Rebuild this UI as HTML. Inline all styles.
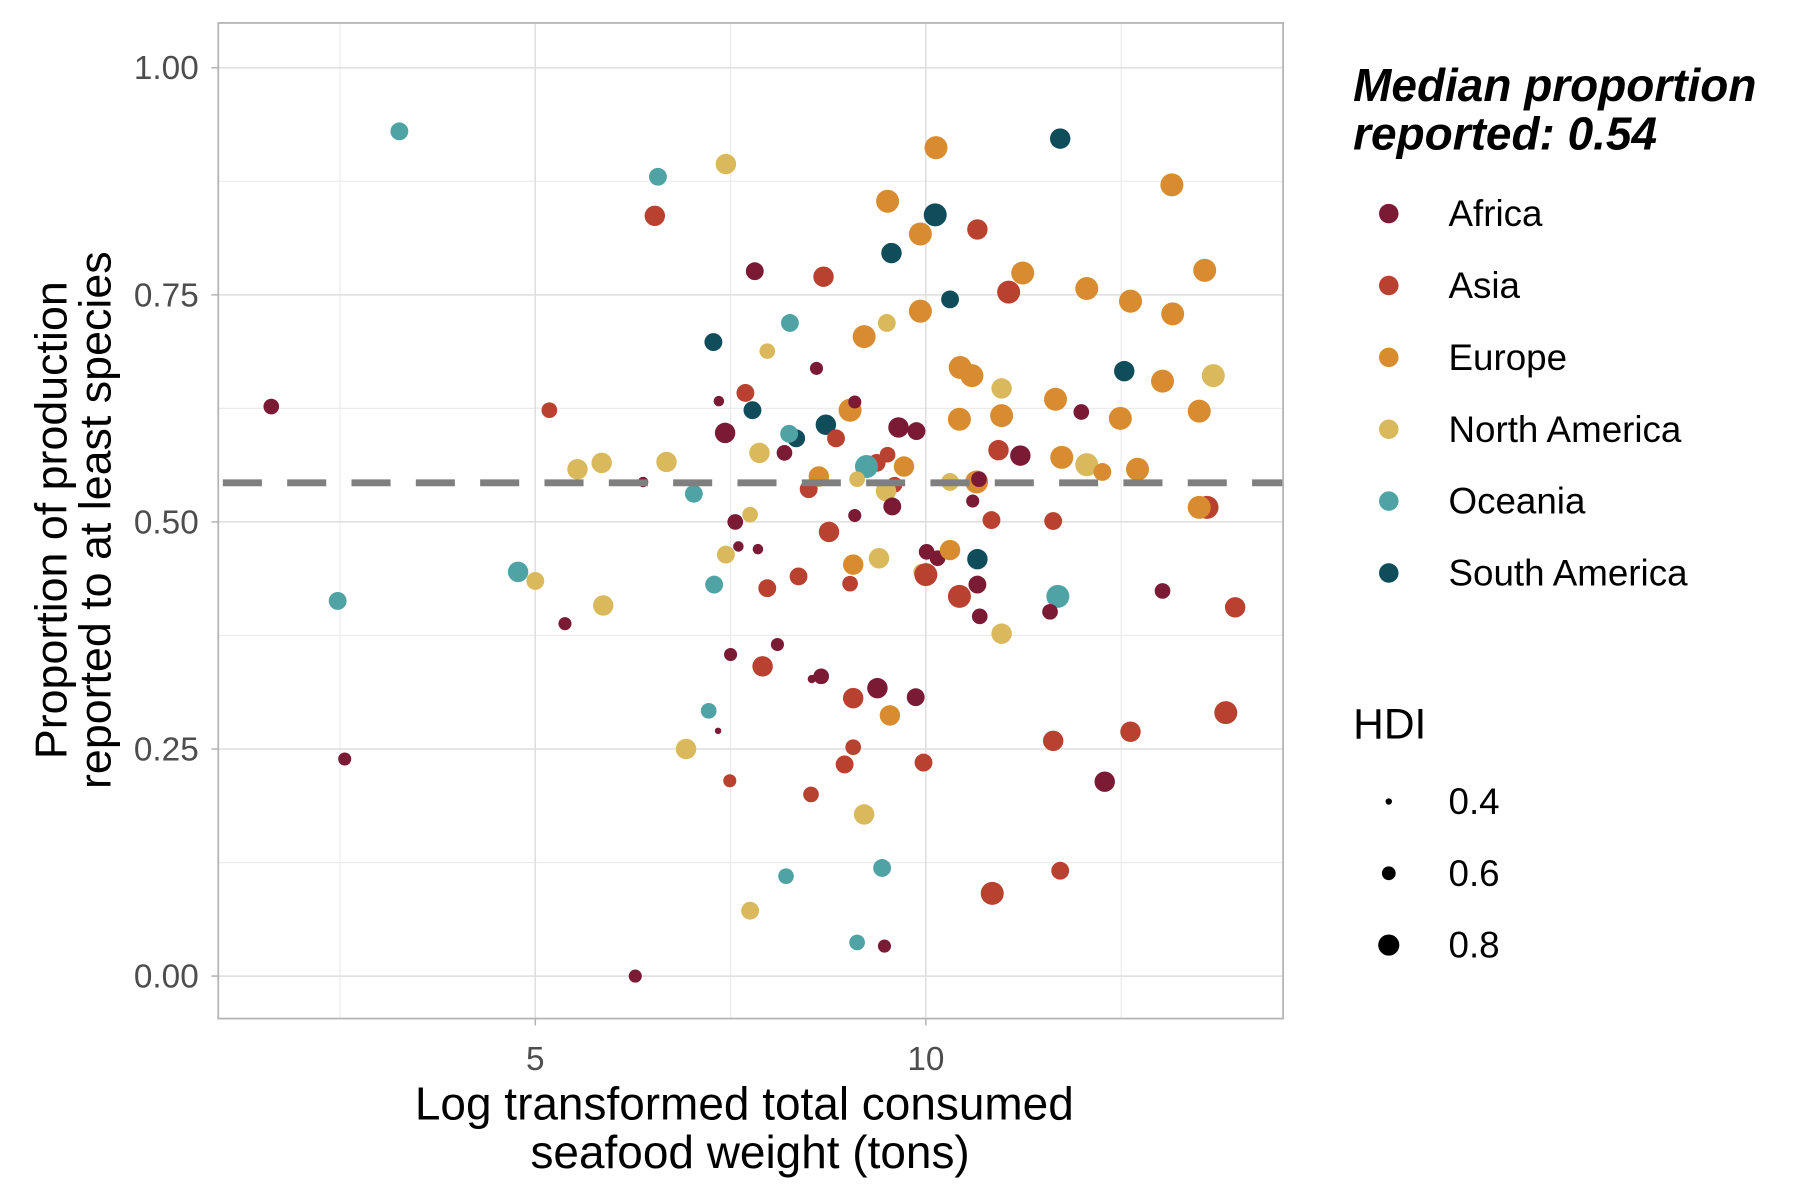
<!DOCTYPE html>
<html><head><meta charset="utf-8"><style>
html,body{margin:0;padding:0;background:#fff;}
svg{display:block;}
text{font-family:"Liberation Sans",Arial,sans-serif;}
</style></head><body>
<svg id="chart" width="1800" height="1200" viewBox="0 0 1567 1045" preserveAspectRatio="none" xmlns="http://www.w3.org/2000/svg">
<g id="grid"></g>
<g id="marks"></g>
<rect x="190" y="20" width="927" height="867" fill="none" stroke="#b3b3b3" stroke-width="1.5"/>
<g id="axes"></g>
<g font-size="40" fill="#000" text-anchor="middle">
<text x="648" y="975">Log transformed total consumed</text>
<text x="653" y="1017">seafood weight (tons)</text>
</g>
<g font-size="39" fill="#000" text-anchor="middle">
<text transform="translate(58,453) rotate(-90)">Proportion of production</text>
<text transform="translate(96,453) rotate(-90)">reported to at least species</text>
</g>
<g>
<text x="1178" y="88" font-size="40" font-weight="bold" font-style="italic">Median proportion</text>
<text x="1178" y="130" font-size="40" font-weight="bold" font-style="italic">reported: 0.54</text>
<g id="legRegion"></g>
</g>
<g>
<text x="1178" y="643" font-size="37">HDI</text>
<g id="legHdi"></g>
</g>
</svg>
<script>
const regionNames = ["Africa","Asia","Europe","North America","Oceania","South America"];
const regionColors = ["#7b1a35","#b8412f","#d98c2f","#d9b95c","#4fa3a5","#0f4d5a"];
const xTicks = [5, 10];
const yTicks = [0, 0.25, 0.5, 0.75, 1.0];
const yTickLabels = ["0.00","0.25","0.50","0.75","1.00"];
const medianValue = 0.543;
const hdiLegend = [0.4, 0.6, 0.8];
const ptRegion = [4,0,4,0,1,4,3,1,3,3,0,3,4,4,3,3,0,0,5,0,1,5,0,3,0,3,0,0,3,4,1,0,1,0,4,3,0,1,3,4,0,4,3,0,5,4,0,1,5,1,1,2,1,1,0,0,1,1,1,1,0,0,2,3,4,4,0,1,2,3,2,5,2,2,5,1,5,2,2,0,0,0,1,1,4,2,3,1,3,0,0,2,3,1,0,0,2,3,1,1,2,2,1,2,3,2,2,3,2,0,0,1,0,1,5,0,0,3,1,5,2,2,0,2,2,2,3,2,2,5,1,4,0,1,1,0,1,2,2,2,2,3,2,1,2,0,1,1];
const ptX = [3.26,1.62,2.47,2.56,6.53,6.57,7.44,5.18,5.54,5.85,6.38,6.68,7.03,4.78,5.0,5.87,5.38,6.28,7.28,7.35,7.69,7.78,7.43,7.87,7.56,7.75,7.6,7.85,7.44,7.29,7.97,7.5,7.91,8.1,7.22,6.93,7.34,7.49,7.75,8.21,7.81,8.26,7.97,8.6,8.34,8.25,8.19,8.69,8.72,8.85,8.5,8.63,8.76,8.37,8.66,8.54,8.53,8.96,9.07,9.07,9.38,9.87,9.54,9.21,9.44,9.12,9.47,9.97,9.21,9.5,9.51,9.56,9.93,10.13,10.12,10.66,10.31,9.93,9.03,9.09,9.65,9.88,9.51,9.37,9.24,9.72,9.12,9.6,9.49,9.57,9.09,9.07,9.4,9.03,10.01,10.15,10.31,9.94,10.0,10.43,10.44,10.59,11.06,11.24,10.97,10.43,10.97,10.31,10.65,10.68,10.6,10.93,11.21,10.84,10.66,10.66,10.69,10.97,10.85,11.72,11.66,11.74,11.99,12.06,12.62,12.49,12.06,12.26,12.71,12.54,11.63,11.69,11.59,11.63,12.62,12.29,11.72,13.15,13.03,13.16,13.57,13.68,13.5,13.6,13.5,13.03,13.96,13.84];
const ptY = [0.930,0.627,0.413,0.239,0.837,0.880,0.894,0.623,0.558,0.565,0.544,0.566,0.531,0.445,0.435,0.408,0.388,0.0,0.698,0.633,0.642,0.623,0.598,0.576,0.5,0.508,0.473,0.47,0.464,0.431,0.427,0.354,0.341,0.365,0.292,0.25,0.27,0.215,0.072,0.11,0.776,0.719,0.688,0.669,0.592,0.597,0.576,0.770,0.607,0.592,0.536,0.55,0.489,0.44,0.33,0.327,0.2,0.233,0.252,0.306,0.317,0.307,0.287,0.178,0.119,0.037,0.033,0.235,0.704,0.719,0.853,0.796,0.817,0.912,0.838,0.822,0.745,0.732,0.623,0.632,0.604,0.6,0.574,0.565,0.561,0.561,0.547,0.541,0.534,0.517,0.507,0.453,0.46,0.432,0.467,0.46,0.469,0.445,0.442,0.418,0.67,0.661,0.753,0.774,0.647,0.613,0.617,0.544,0.544,0.547,0.523,0.579,0.573,0.502,0.459,0.431,0.396,0.377,0.091,0.922,0.635,0.571,0.621,0.757,0.743,0.614,0.563,0.555,0.558,0.666,0.501,0.418,0.401,0.259,0.269,0.214,0.116,0.871,0.655,0.729,0.777,0.661,0.622,0.516,0.516,0.424,0.406,0.29];
const ptHdi = [0.68,0.62,0.68,0.55,0.75,0.68,0.75,0.62,0.75,0.75,0.48,0.75,0.68,0.75,0.68,0.75,0.55,0.55,0.68,0.48,0.68,0.68,0.75,0.75,0.62,0.62,0.48,0.48,0.68,0.68,0.68,0.55,0.75,0.55,0.62,0.75,0.37,0.55,0.68,0.62,0.68,0.68,0.62,0.55,0.68,0.68,0.62,0.75,0.75,0.68,0.68,0.75,0.75,0.68,0.62,0.42,0.62,0.68,0.62,0.75,0.75,0.68,0.75,0.75,0.68,0.62,0.55,0.68,0.82,0.68,0.82,0.75,0.82,0.82,0.82,0.75,0.68,0.82,0.82,0.55,0.75,0.68,0.62,0.68,0.82,0.75,0.62,0.62,0.75,0.68,0.55,0.75,0.75,0.62,0.62,0.62,0.75,0.62,0.82,0.82,0.82,0.82,0.82,0.82,0.75,0.82,0.82,0.68,0.82,0.62,0.55,0.75,0.75,0.68,0.75,0.68,0.62,0.75,0.82,0.75,0.82,0.82,0.62,0.82,0.82,0.82,0.82,0.68,0.82,0.75,0.68,0.82,0.62,0.75,0.75,0.75,0.68,0.82,0.82,0.82,0.82,0.82,0.82,0.82,0.82,0.62,0.75,0.82];

const NS = "http://www.w3.org/2000/svg";
const PL = 190, PR = 1117, PT = 20, PB = 887;
const X0 = 466, XPerUnit = 68, Y0 = 850, YPerUnit = 791;
function sx(v){ return X0 + (v - 5) * XPerUnit; }
function sy(v){ return Y0 - v * YPerUnit; }
function sr(h){ return 2.5 + (h - 0.35) * 16; }
function mk(tag, attrs, parent){
  const e = document.createElementNS(NS, tag);
  for (const k in attrs) e.setAttribute(k, attrs[k]);
  parent.appendChild(e);
  return e;
}
const grid = document.getElementById('grid');
const axes = document.getElementById('axes');
const marks = document.getElementById('marks');
for (let i = 0; i < yTicks.length - 1; i++) {
  const m = (yTicks[i] + yTicks[i+1]) / 2;
  const l = mk('line', {x1:PL, x2:PR, y1:sy(m), y2:sy(m), stroke:'#ebebeb', 'stroke-width':1}, grid);
  
  
}
const xMinor = [xTicks[0] - 2.5, (xTicks[0] + xTicks[1]) / 2, xTicks[1] + 2.5];
xMinor.forEach(m => {
  const l = mk('line', {x1:sx(m), x2:sx(m), y1:PT, y2:PB, stroke:'#ebebeb', 'stroke-width':1}, grid);
  
  
});
yTicks.forEach((t, i) => {
  const l = mk('line', {x1:PL, x2:PR, y1:sy(t), y2:sy(t), stroke:'#dedede', 'stroke-width':1.3}, grid);
  
  
  const tk = mk('line', {x1:PL-6, x2:PL, y1:sy(t), y2:sy(t), stroke:'#b3b3b3', 'stroke-width':1.3}, axes);
  
  
  const tx = mk('text', {x:PL-17, y:sy(t)+10, 'text-anchor':'end', 'font-size':29, fill:'#4d4d4d'}, axes);
  tx.textContent = yTickLabels[i];
  
  
});
xTicks.forEach(t => {
  const l = mk('line', {x1:sx(t), x2:sx(t), y1:PT, y2:PB, stroke:'#dedede', 'stroke-width':1.3}, grid);
  
  
  const tk = mk('line', {x1:sx(t), x2:sx(t), y1:PB, y2:PB+6, stroke:'#b3b3b3', 'stroke-width':1.3}, axes);
  
  
  const tx = mk('text', {x:sx(t), y:PB+45, 'text-anchor':'middle', 'font-size':29, fill:'#4d4d4d'}, axes);
  tx.textContent = String(t);
  
  
});
for (let i = 0; i < ptX.length; i++) {
  const c = mk('circle', {cx:sx(ptX[i]), cy:sy(ptY[i]), r:sr(ptHdi[i]), fill:regionColors[ptRegion[i]]}, marks);
  
  
}
const med = mk('line', {x1:PL, x2:PR, y1:sy(medianValue), y2:sy(medianValue), stroke:'#7f7f7f', 'stroke-width':6, 'stroke-dasharray':'34 22', 'stroke-dashoffset':-4}, marks);


const legR = document.getElementById('legRegion');
regionNames.forEach((n, i) => {
  const y = 186 + i * 62.6;
  const c = mk('circle', {cx:1209, cy:y, r:8.5, fill:regionColors[i]}, legR);
  
  
  const t = mk('text', {x:1261, y:y+11, 'font-size':32, fill:'#000'}, legR);
  t.textContent = n;
  
  
});
const legH = document.getElementById('legHdi');
hdiLegend.forEach((h, i) => {
  const y = 698 + i * 62.5;
  const c = mk('circle', {cx:1209, cy:y, r:sr(h) - 0.5, fill:'#000'}, legH);
  
  
  const t = mk('text', {x:1261, y:y+11, 'font-size':32, fill:'#000'}, legH);
  t.textContent = String(h);
  
  
});
</script>
</body></html>
